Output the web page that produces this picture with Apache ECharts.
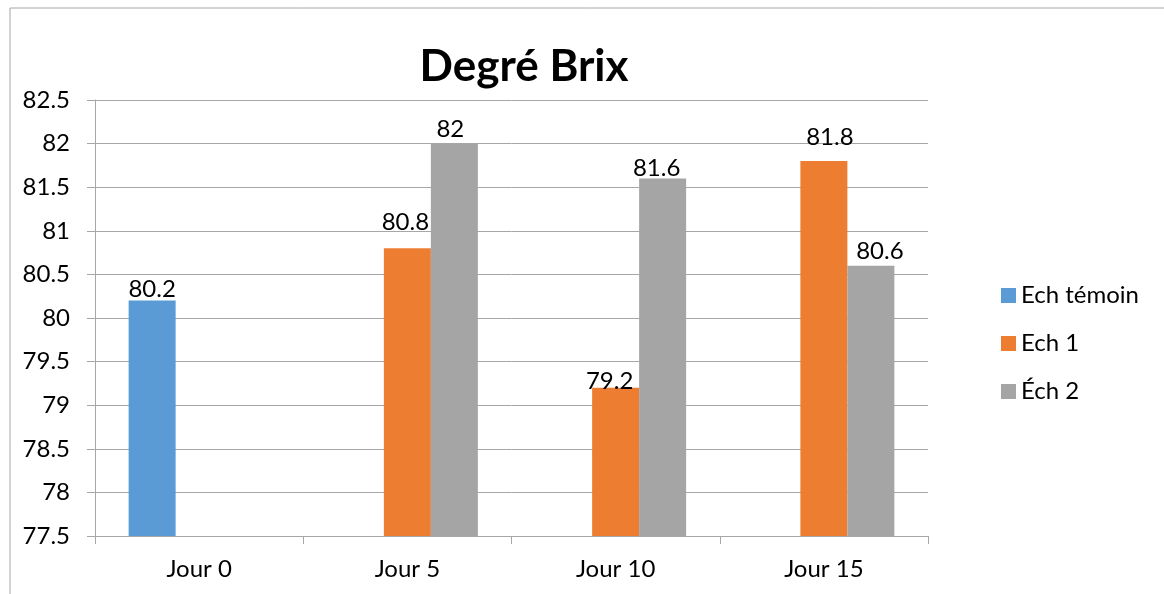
<!DOCTYPE html>
<html>
<head>
<meta charset="utf-8">
<script src="https://cdn.jsdelivr.net/npm/echarts@6/dist/echarts.min.js"></script>
<style>html,body{margin:0;padding:0;background:#fff;}#c{width:1164px;height:594px;}</style>
</head>
<body>
<div id="c"></div>
<script>
const categories = ['Jour 0', 'Jour 5', 'Jour 10', 'Jour 15'];
const seriesNames = ['Ech témoin', 'Ech 1', 'Éch 2'];
const echTemoin = [80.2, null, null, null];
const ech1 = [null, 80.8, 79.2, 81.8];
const ech2 = [null, 82, 81.6, 80.6];
const yTicks = { min: 77.5, max: 82.5, interval: 0.5 };

// label nudges (style only): [dx, dy] per category
const nudgeTemoin = [[0, 1], null, null, null];
const nudge1 = [null, [-2, -14], [-6, 6], [6, -12]];
const nudge2 = [null, [-4, -2], [-6, 2], [9, -2]];

const colors = ['#5B9BD5', '#ED7D31', '#A5A5A5'];
const FONT = 'Lato';
const FS = 24;

function mk(values, nudges) {
  return values.map((v, i) => {
    if (v === null) return null;
    const o = { value: v };
    if (nudges[i]) o.label = { offset: nudges[i] };
    return o;
  });
}

const chart = echarts.init(document.getElementById('c'));
const labelCommon = {
  show: true, position: 'top', distance: 0,
  color: '#000', fontFamily: FONT, fontSize: FS
};
chart.setOption({
  animation: false,
  color: colors,
  graphic: [{
    type: 'rect', left: 7.5, top: 5.5, z: -10,
    shape: { width: 1300, height: 700 },
    style: { fill: 'none', stroke: '#A6A6A6', lineWidth: 1 }
  }],
  title: {
    text: 'Degré Brix', left: 519, top: 40, textAlign: 'center',
    textStyle: { fontFamily: FONT, fontWeight: 'bold', fontSize: 44, color: '#000' }
  },
  legend: {
    orient: 'vertical', left: 1001, top: 283.5, padding: 0,
    itemWidth: 15, itemHeight: 15, itemGap: 24, icon: 'rect',
    textStyle: { fontFamily: FONT, fontSize: FS, color: '#000', lineHeight: 24 },
    data: seriesNames
  },
  grid: { left: 95, right: 236, top: 100, bottom: 58, containLabel: false },
  xAxis: {
    type: 'category', data: categories,
    axisLine: { lineStyle: { color: '#A6A6A6', width: 1 } },
    axisTick: { show: true, length: 8, lineStyle: { color: '#A6A6A6' }, alignWithLabel: false },
    axisLabel: { margin: 21, fontFamily: FONT, fontSize: FS, color: '#000' }
  },
  yAxis: {
    type: 'value', min: yTicks.min, max: yTicks.max, interval: yTicks.interval,
    axisLine: { show: true, lineStyle: { color: '#A6A6A6', width: 1 } },
    axisTick: { show: true, length: 8, lineStyle: { color: '#A6A6A6' } },
    splitLine: { show: true, lineStyle: { color: '#A6A6A6', width: 1 } },
    axisLabel: { margin: 25, fontFamily: FONT, fontSize: FS, color: '#000',
      formatter: v => String(Math.round(v * 10) / 10) }
  },
  series: [
    { name: seriesNames[0], type: 'bar', data: mk(echTemoin, nudgeTemoin), barGap: '0%', barCategoryGap: '32.3%', label: labelCommon },
    { name: seriesNames[1], type: 'bar', data: mk(ech1, nudge1), barGap: '0%', barCategoryGap: '32.3%', label: labelCommon },
    { name: seriesNames[2], type: 'bar', data: mk(ech2, nudge2), barGap: '0%', barCategoryGap: '32.3%', label: labelCommon }
  ]
});
</script>
</body>
</html>
